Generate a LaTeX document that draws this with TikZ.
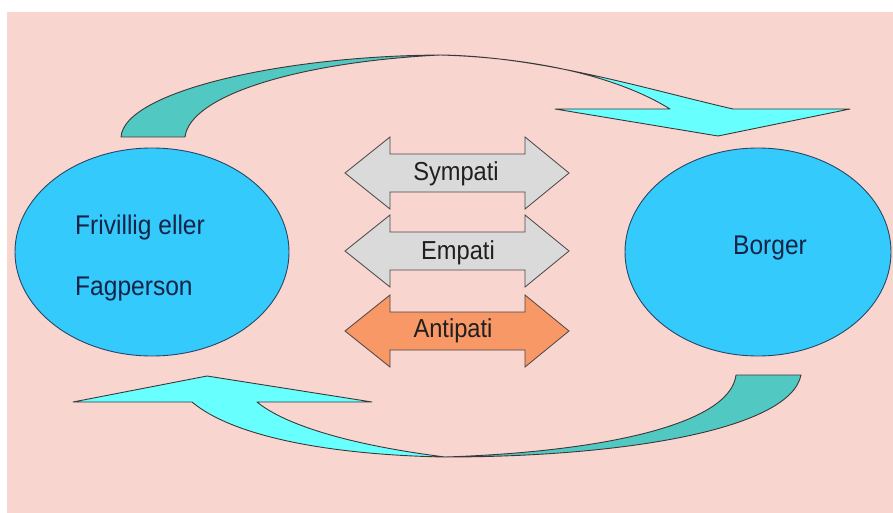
\documentclass[tikz,border=0pt]{standalone}
\usepackage{fontspec}
\setmainfont{Liberation Sans}
\newfontfamily\condfont[FakeStretch=0.91]{Liberation Sans}
\usetikzlibrary{shapes.geometric}
\definecolor{bgpink}{RGB}{249,213,208}
\definecolor{blobblue}{RGB}{53,202,252}
\definecolor{blobline}{RGB}{40,70,100}
\definecolor{tealdark}{RGB}{82,200,194}
\definecolor{cyanlight}{RGB}{104,255,255}
\definecolor{arrgrey}{RGB}{218,218,218}
\definecolor{arrorange}{RGB}{248,152,102}
\definecolor{edgegrey}{RGB}{75,70,70}
\definecolor{navytext}{RGB}{20,35,70}
\newcommand{\dblarr}[2]{%
  \draw[#1] (345,#2) -- (390,#2-36) -- (390,#2-19) -- (525,#2-19) -- (525,#2-36)
    -- (569,#2) -- (525,#2+36) -- (525,#2+19) -- (390,#2+19) -- (390,#2+36) -- cycle;}
\begin{document}
\begin{tikzpicture}[x=1pt,y=-1pt,
  blob/.style={ellipse, draw=blobline, line width=0.9pt, fill=blobblue, inner sep=0pt},
  blobtext/.style={font=\condfont\fontsize{27}{30}\selectfont, text=navytext, inner sep=0pt},
  arrtext/.style={font=\condfont\fontsize{26}{29}\selectfont, text=black!88, inner sep=0pt, anchor=base},
  greyarrow/.style={fill=arrgrey, draw=edgegrey, line width=0.8pt, line join=miter},
  orangearrow/.style={fill=arrorange, draw=edgegrey, line width=0.8pt, line join=miter},
  bandback/.style={fill=tealdark, draw=edgegrey!80!black, line width=0.9pt, line join=round},
  bandfront/.style={fill=cyanlight, draw=edgegrey!80!black, line width=0.9pt, line join=round}]
\useasboundingbox (0,0) rectangle (893,513);
\fill[white] (0,0) rectangle (893,513);
\fill[bgpink] (7,12) rectangle (893,513);

% ellipses
\node[blob, minimum width=274pt, minimum height=208pt] (fri) at (152,252) {};
\node[blob, minimum width=266pt, minimum height=208pt] (bor) at (758,252) {};
\node[blobtext, anchor=base west] (fri1) at (75,234) {Frivillig eller};
\node[blobtext, anchor=base west] (fri2) at (75,295) {Fagperson};
\node[blobtext, anchor=base] (bort) at (770,254) {Borger};

% double arrows
\dblarr{greyarrow}{173}
\dblarr{greyarrow}{251}
\dblarr{orangearrow}{331}
\node[arrtext] (symp) at (456,181) {Sympati};
\node[arrtext] (emp) at (458,259) {Empati};
\node[arrtext] (anti) at (453,337) {Antipati};

% top curved arrow
\coordinate (tn) at (440,55);
\draw[bandback] (121,137) .. controls (124,92) and (280,56) .. (tn)
  .. controls (300,62) and (190,95) .. (185,137) -- cycle;
\draw[bandfront] (tn) .. controls (540,56) and (650,90) .. (733,109)
  -- (850,109) -- (718,136) -- (555,109) -- (670,109)
  .. controls (620,78) and (540,58) .. (tn) -- cycle;

% bottom curved arrow
\coordinate (bn) at (445,457);
\draw[bandback] (801,375) .. controls (790,430) and (620,457) .. (bn)
  .. controls (600,452) and (730,425) .. (736,375) -- cycle;
\draw[bandfront] (bn) .. controls (335,455) and (235,438) .. (192,402)
  -- (73,402) -- (207,376) -- (372,402) -- (257,402)
  .. controls (285,425) and (350,445) .. (bn) -- cycle;
\end{tikzpicture}
\end{document}
